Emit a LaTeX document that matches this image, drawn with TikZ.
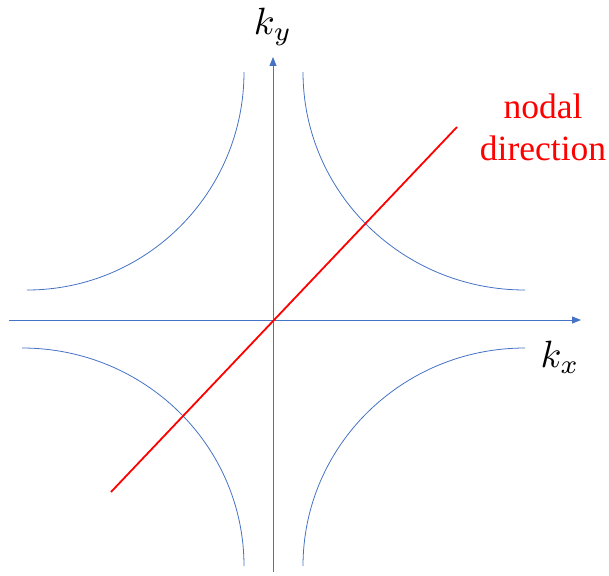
\documentclass[tikz,border=0pt]{standalone}
\usepackage{fontspec}
\setmainfont{Liberation Serif}
\usetikzlibrary{arrows.meta}
\definecolor{officeblue}{RGB}{68,114,196}
\begin{document}
\begin{tikzpicture}[x=1pt,y=-1pt,
  axisline/.style={draw=officeblue,line width=0.9pt,-{Triangle[length=9pt,width=7pt]}},
  curve/.style={draw=officeblue,line width=0.8pt},
  nodal/.style={draw=red,line width=1.8pt},
  lbl/.style={inner sep=0pt},
  mathlbl/.style={lbl,scale=3.8},
  textlbl/.style={lbl,text=red,align=center,font={\fontsize{35.5}{42}\selectfont}}]
\useasboundingbox (0,0) rectangle (609,575);
% axes
\coordinate (xs) at (9,320);
\coordinate (xe) at (581,320);
\coordinate (ys) at (273,572);
\coordinate (ye) at (273,57);
\draw[axisline] (xs) -- (xe);
\draw[axisline] (ys) -- (ye);
% arcs
\draw[curve] (244,72) arc[start angle=0,end angle=-90,x radius=217pt,y radius=218pt];
\draw[curve] (303,72) arc[start angle=180,end angle=270,x radius=222pt,y radius=218pt];
\draw[curve] (22,348) arc[start angle=90,end angle=0,x radius=222pt,y radius=218pt];
\draw[curve] (303,566) arc[start angle=180,end angle=90,x radius=222pt,y radius=218pt];
% nodal direction line
\coordinate (ns) at (111,492);
\coordinate (ne) at (457,127);
\draw[nodal] (ns) -- (ne);
% labels
\node[mathlbl] (ky) at (273,27) {$k_y$};
\node[mathlbl] (kx) at (560,357) {$k_x$};
\node[textlbl] (nd) at (543,127) {nodal\\direction};
\end{tikzpicture}
\end{document}
